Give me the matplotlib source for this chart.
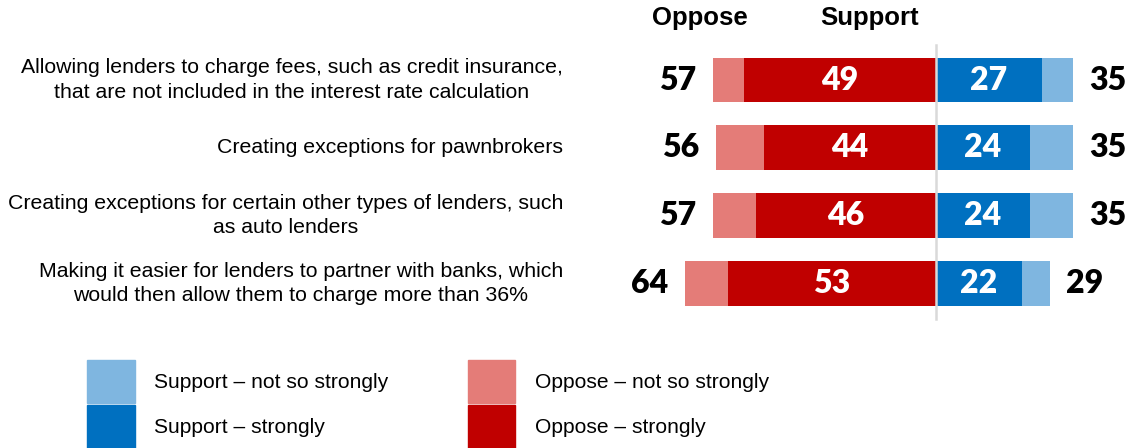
import numpy as np
import matplotlib.pyplot as plt

# Survey items and results (percent)
items = [
    "Allowing lenders to charge fees, such as credit insurance,\nthat are not included in the interest rate calculation",
    "Creating exceptions for pawnbrokers",
    "Creating exceptions for certain other types of lenders, such\nas auto lenders",
    "Making it easier for lenders to partner with banks, which\nwould then allow them to charge more than 36%",
]
oppose_strongly = [49, 44, 46, 53]
oppose_total = [57, 56, 57, 64]
support_strongly = [27, 24, 24, 22]
support_total = [35, 35, 35, 29]

c_sup_light = "#7FB6E0"
c_sup_dark = "#0070C0"
c_opp_light = "#E47C78"
c_opp_dark = "#C00000"

W, H = 1134, 448
fig = plt.figure(figsize=(W / 100, H / 100), dpi=100)
ax = fig.add_axes([0, 0, 1, 1])

# layout: zero line at x=936 px, 3.92 px per percent; rows 67.8 px apart
x0, kx = 936, 3.92
y0, ky = 80, 67.8
ax.set_xlim(-x0 / kx, (W - x0) / kx)
ax.set_ylim((H - y0) / ky, -y0 / ky)
ax.axis("off")

rows = np.arange(len(items))
opp_not = np.array(oppose_total) - np.array(oppose_strongly)
sup_not = np.array(support_total) - np.array(support_strongly)
h = 0.66

ax.barh(rows, -np.array(oppose_strongly), height=h, color=c_opp_dark)
ax.barh(rows, -opp_not, left=-np.array(oppose_strongly), height=h, color=c_opp_light)
ax.barh(rows, support_strongly, height=h, color=c_sup_dark)
ax.barh(rows, sup_not, left=support_strongly, height=h, color=c_sup_light)

ax.plot([0, 0], [-0.52, 3.52], color="#D9D9D9", lw=1.8, zorder=5)

num_font = dict(family="Lato", fontweight=800, fontsize=23)
for i in rows:
    ax.text(-oppose_strongly[i] / 2, i, str(oppose_strongly[i]), color="white",
            ha="center", va="center", **num_font)
    ax.text(support_strongly[i] / 2, i, str(support_strongly[i]), color="white",
            ha="center", va="center", **num_font)
    ax.text(-oppose_total[i] - 4.3, i, str(oppose_total[i]), color="black",
            ha="right", va="center", **num_font)
    ax.text(support_total[i] + 4.1, i, str(support_total[i]), color="black",
            ha="left", va="center", **num_font)
    ax.text((563 - x0) / kx, i, items[i], ha="right", va="center",
            multialignment="center", family="Liberation Sans", fontsize=15.3,
            linespacing=1.36)

hdr = dict(family="Liberation Sans", fontweight="bold", fontsize=18.5,
           ha="center", va="center")
fig.text(700 / W, 1 - 18 / H, "Oppose", **hdr)
fig.text(870 / W, 1 - 18 / H, "Support", **hdr)

handles = [
    plt.Rectangle((0, 0), 1, 1, color=c_sup_light),
    plt.Rectangle((0, 0), 1, 1, color=c_sup_dark),
    plt.Rectangle((0, 0), 1, 1, color=c_opp_light),
    plt.Rectangle((0, 0), 1, 1, color=c_opp_dark),
]
labels = ["Support – not so strongly", "Support – strongly",
          "Oppose – not so strongly", "Oppose – strongly"]
fs = 15.1
fig.legend(handles, labels, ncol=2, loc="upper left",
           bbox_to_anchor=(87 / W, 1 - 360 / H), frameon=False,
           prop=dict(family="Liberation Sans", size=fs),
           handlelength=2.27, handleheight=2.79, handletextpad=0.92,
           labelspacing=0.1, columnspacing=3.8, borderpad=0, borderaxespad=0)

fig.savefig("out.png", dpi=100)
